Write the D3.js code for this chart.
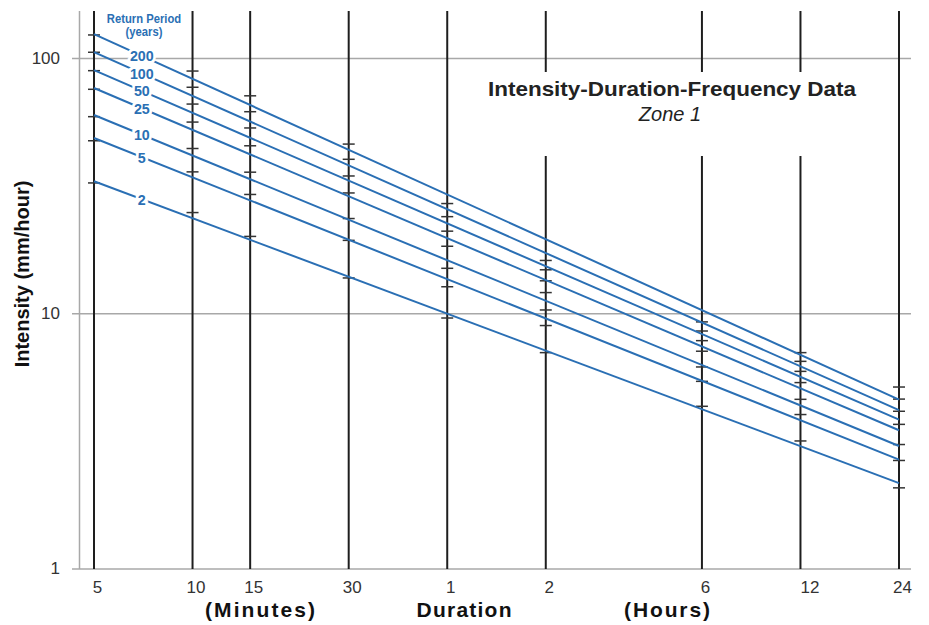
<!DOCTYPE html>
<html>
<head>
<meta charset="utf-8">
<script src="https://cdn.jsdelivr.net/npm/d3@7"></script>
<style>
  body { margin: 0; background: #fff; }
  text { font-family: "Liberation Sans", Arial, sans-serif; }
</style>
</head>
<body>
<div id="chart"></div>
<script>
// Durations in minutes and how they are printed on the axis
const durations = [5, 10, 15, 30, 60, 120, 360, 720, 1440]
const durationLabels = ["5", "10", "15", "30", "1", "2", "6", "12", "24"]
const intensityTicks = [1, 10, 100]

// Return periods (years)
const returnPeriods = ["200", "100", "50", "25", "10", "5", "2"]

// Fitted lines: intensity (mm/hour) at 5 minutes and at 24 hours
const lineAt5min = [124, 105.5, 89.7, 76.3, 59.8, 48.6, 32.9]
const lineAt24h = [4.59, 4.17, 3.83, 3.48, 3.02, 2.67, 2.16]

// Observed intensities (mm/hour), one row per return period, one value per duration
const obs200 = [123.1, 88.9, 71.1, 46.0, 26.9, 16.1, 9.25, 7.01, 5.14]
const obs100 = [105.3, 76.8, 61.6, 40.1, 23.9, 14.8, 8.52, 6.48, 4.61]
const obs50 = [89.2, 66.0, 53.2, 34.5, 20.97, 13.4, 7.81, 5.92, 4.13]
const obs25 = [75.4, 56.1, 45.3, 29.6, 18.3, 12.05, 7.10, 5.35, 3.67]
const obs10 = [58.9, 44.2, 35.7, 23.5, 15.0, 10.3, 6.16, 4.60, 3.06]
const obs5 = [47.4, 35.8, 29.2, 19.3, 12.7, 8.95, 5.41, 4.01, 2.65]
const obs2 = [32.4, 24.8, 20.0, 13.75, 9.58, 7.01, 4.32, 3.16, 2.07]
const observed = [obs200, obs100, obs50, obs25, obs10, obs5, obs2]

// Durations whose vertical rule is broken to make room for the title
const brokenDurations = [120, 360, 720]
const labelDuration = 7   // where the return period labels sit on each line

function drawChart(container) {
    const WIDTH = 929
    const HEIGHT = 625
    const PLOT = {LEFT: 80, RIGHT: 911, TOP: 11, BOTTOM: 569}
    const GAP = {TOP: 72, BOTTOM: 156}
    const BLUE = "#2a6fb4"

    let svg = d3.select(container).append("svg")
        .attr("width", WIDTH)
        .attr("height", HEIGHT)

    // log scales on both axes
    let xScale = d3.scaleLog()
        .domain([5, 1440])
        .range([94, 899])

    let yScale = d3.scaleLog()
        .domain([1, 100])
        .range([568.5, 58])

    // horizontal grid + y labels
    let yAxis = svg.append("g")
        .attr("transform", "translate(" + PLOT.LEFT + ",0)")
        .call(d3.axisLeft(yScale)
            .tickValues(intensityTicks)
            .tickFormat(d3.format("d"))
            .tickSize(-(PLOT.RIGHT - PLOT.LEFT))
            .tickPadding(20))
    yAxis.select(".domain").remove()
    yAxis.selectAll(".tick line")
        .attr("x1", -8)
        .attr("stroke", "#a8a8a8")
        .attr("stroke-width", 1.5)
    yAxis.selectAll(".tick text")
        .attr("font-size", 17)
        .attr("fill", "#333")
        .style("font-family", "'Liberation Sans', Arial, sans-serif")

    // left frame line
    svg.append("line")
        .attr("x1", PLOT.LEFT - 0.5).attr("x2", PLOT.LEFT - 0.5)
        .attr("y1", PLOT.TOP).attr("y2", PLOT.BOTTOM)
        .attr("stroke", "#a8a8a8")
        .attr("stroke-width", 1.5)

    // vertical rules at each duration
    let segments = []
    durations.forEach(d => {
        if (brokenDurations.includes(d)) {
            segments.push({d: d, y1: PLOT.TOP, y2: GAP.TOP})
            segments.push({d: d, y1: GAP.BOTTOM, y2: PLOT.BOTTOM})
        } else {
            segments.push({d: d, y1: PLOT.TOP, y2: PLOT.BOTTOM})
        }
    })
    svg.append("g").selectAll("line")
        .data(segments)
        .enter()
        .append("line")
            .attr("x1", d => xScale(d.d))
            .attr("x2", d => xScale(d.d))
            .attr("y1", d => d.y1)
            .attr("y2", d => d.y2)
            .attr("stroke", "#1e1e1e")
            .attr("stroke-width", 2)

    // x labels
    let xAxis = svg.append("g")
        .attr("transform", "translate(0," + PLOT.BOTTOM + ")")
        .call(d3.axisBottom(xScale)
            .tickValues(durations)
            .tickFormat((d, i) => durationLabels[i])
            .tickSize(0)
            .tickPadding(12))
    xAxis.select(".domain").remove()
    xAxis.selectAll(".tick text")
        .attr("font-size", 17)
        .attr("fill", "#333")
        .attr("dx", (d, i) => d == 720 ? 9 : 3)
        .style("font-family", "'Liberation Sans', Arial, sans-serif")

    // observed values as small horizontal ticks
    let points = []
    observed.forEach((row, r) => row.forEach((v, i) => points.push({d: durations[i], v: v})))
    svg.append("g").selectAll("line")
        .data(points)
        .enter()
        .append("line")
            .attr("x1", d => xScale(d.d) - 6)
            .attr("x2", d => xScale(d.d) + 6)
            .attr("y1", d => yScale(d.v))
            .attr("y2", d => yScale(d.v))
            .attr("stroke", "#333")
            .attr("stroke-width", 1.5)

    // fitted lines
    let lines = returnPeriods.map((p, i) => ({p: p, v0: lineAt5min[i], v1: lineAt24h[i]}))
    svg.append("g").selectAll("line")
        .data(lines)
        .enter()
        .append("line")
            .attr("x1", xScale(5))
            .attr("x2", xScale(1440))
            .attr("y1", d => yScale(d.v0))
            .attr("y2", d => yScale(d.v1))
            .attr("stroke", BLUE)
            .attr("stroke-width", 2)

    // return period labels sitting in a gap on each line (squeezed to look condensed)
    let t = (Math.log(labelDuration) - Math.log(5)) / (Math.log(1440) - Math.log(5))
    svg.append("g").selectAll("text")
        .data(lines)
        .enter()
        .append("text")
            .attr("transform", d => "translate(" + xScale(labelDuration) + "," +
                (yScale(d.v0) + t * (yScale(d.v1) - yScale(d.v0))) + ") scale(0.92,1)")
            .attr("dy", "0.36em")
            .attr("text-anchor", "middle")
            .attr("font-size", 15.5)
            .attr("font-weight", "bold")
            .attr("fill", BLUE)
            .attr("stroke", "#fff")
            .attr("stroke-width", 6)
            .attr("paint-order", "stroke")
            .text(d => d.p)

    let legend = svg.append("text")
        .attr("transform", "translate(144,0) scale(0.9,1)")
        .attr("text-anchor", "middle")
        .attr("font-size", 12.5)
        .attr("font-weight", "bold")
        .attr("fill", BLUE)
    legend.append("tspan").attr("x", 0).attr("y", 23).text("Return Period")
    legend.append("tspan").attr("x", 0).attr("y", 36).text("(years)")

    // title
    svg.append("text")
        .attr("x", 672).attr("y", 96)
        .attr("text-anchor", "middle")
        .attr("font-size", 21)
        .attr("font-weight", "bold")
        .attr("fill", "#222")
        .attr("textLength", 368)
        .attr("lengthAdjust", "spacingAndGlyphs")
        .text("Intensity-Duration-Frequency Data")
    svg.append("text")
        .attr("x", 670).attr("y", 121)
        .attr("text-anchor", "middle")
        .attr("font-size", 20)
        .attr("font-style", "italic")
        .attr("fill", "#222")
        .text("Zone 1")

    // axis titles
    svg.append("text")
        .attr("transform", "translate(29,274) rotate(-90)")
        .attr("text-anchor", "middle")
        .attr("font-size", 20)
        .attr("font-weight", "bold")
        .attr("fill", "#111")
        .text("Intensity (mm/hour)")

    const bottomTitles = [["(Minutes)", 260, 110], ["Duration", 464, 95], ["(Hours)", 667, 86]]
    svg.append("g").selectAll("text")
        .data(bottomTitles)
        .enter()
        .append("text")
            .attr("x", d => d[1])
            .attr("y", 617)
            .attr("text-anchor", "middle")
            .attr("font-size", 21)
            .attr("font-weight", "bold")
            .attr("fill", "#111")
            .attr("textLength", d => d[2])
            .attr("lengthAdjust", "spacing")
            .text(d => d[0])
}

drawChart("#chart")
</script>
</body>
</html>
